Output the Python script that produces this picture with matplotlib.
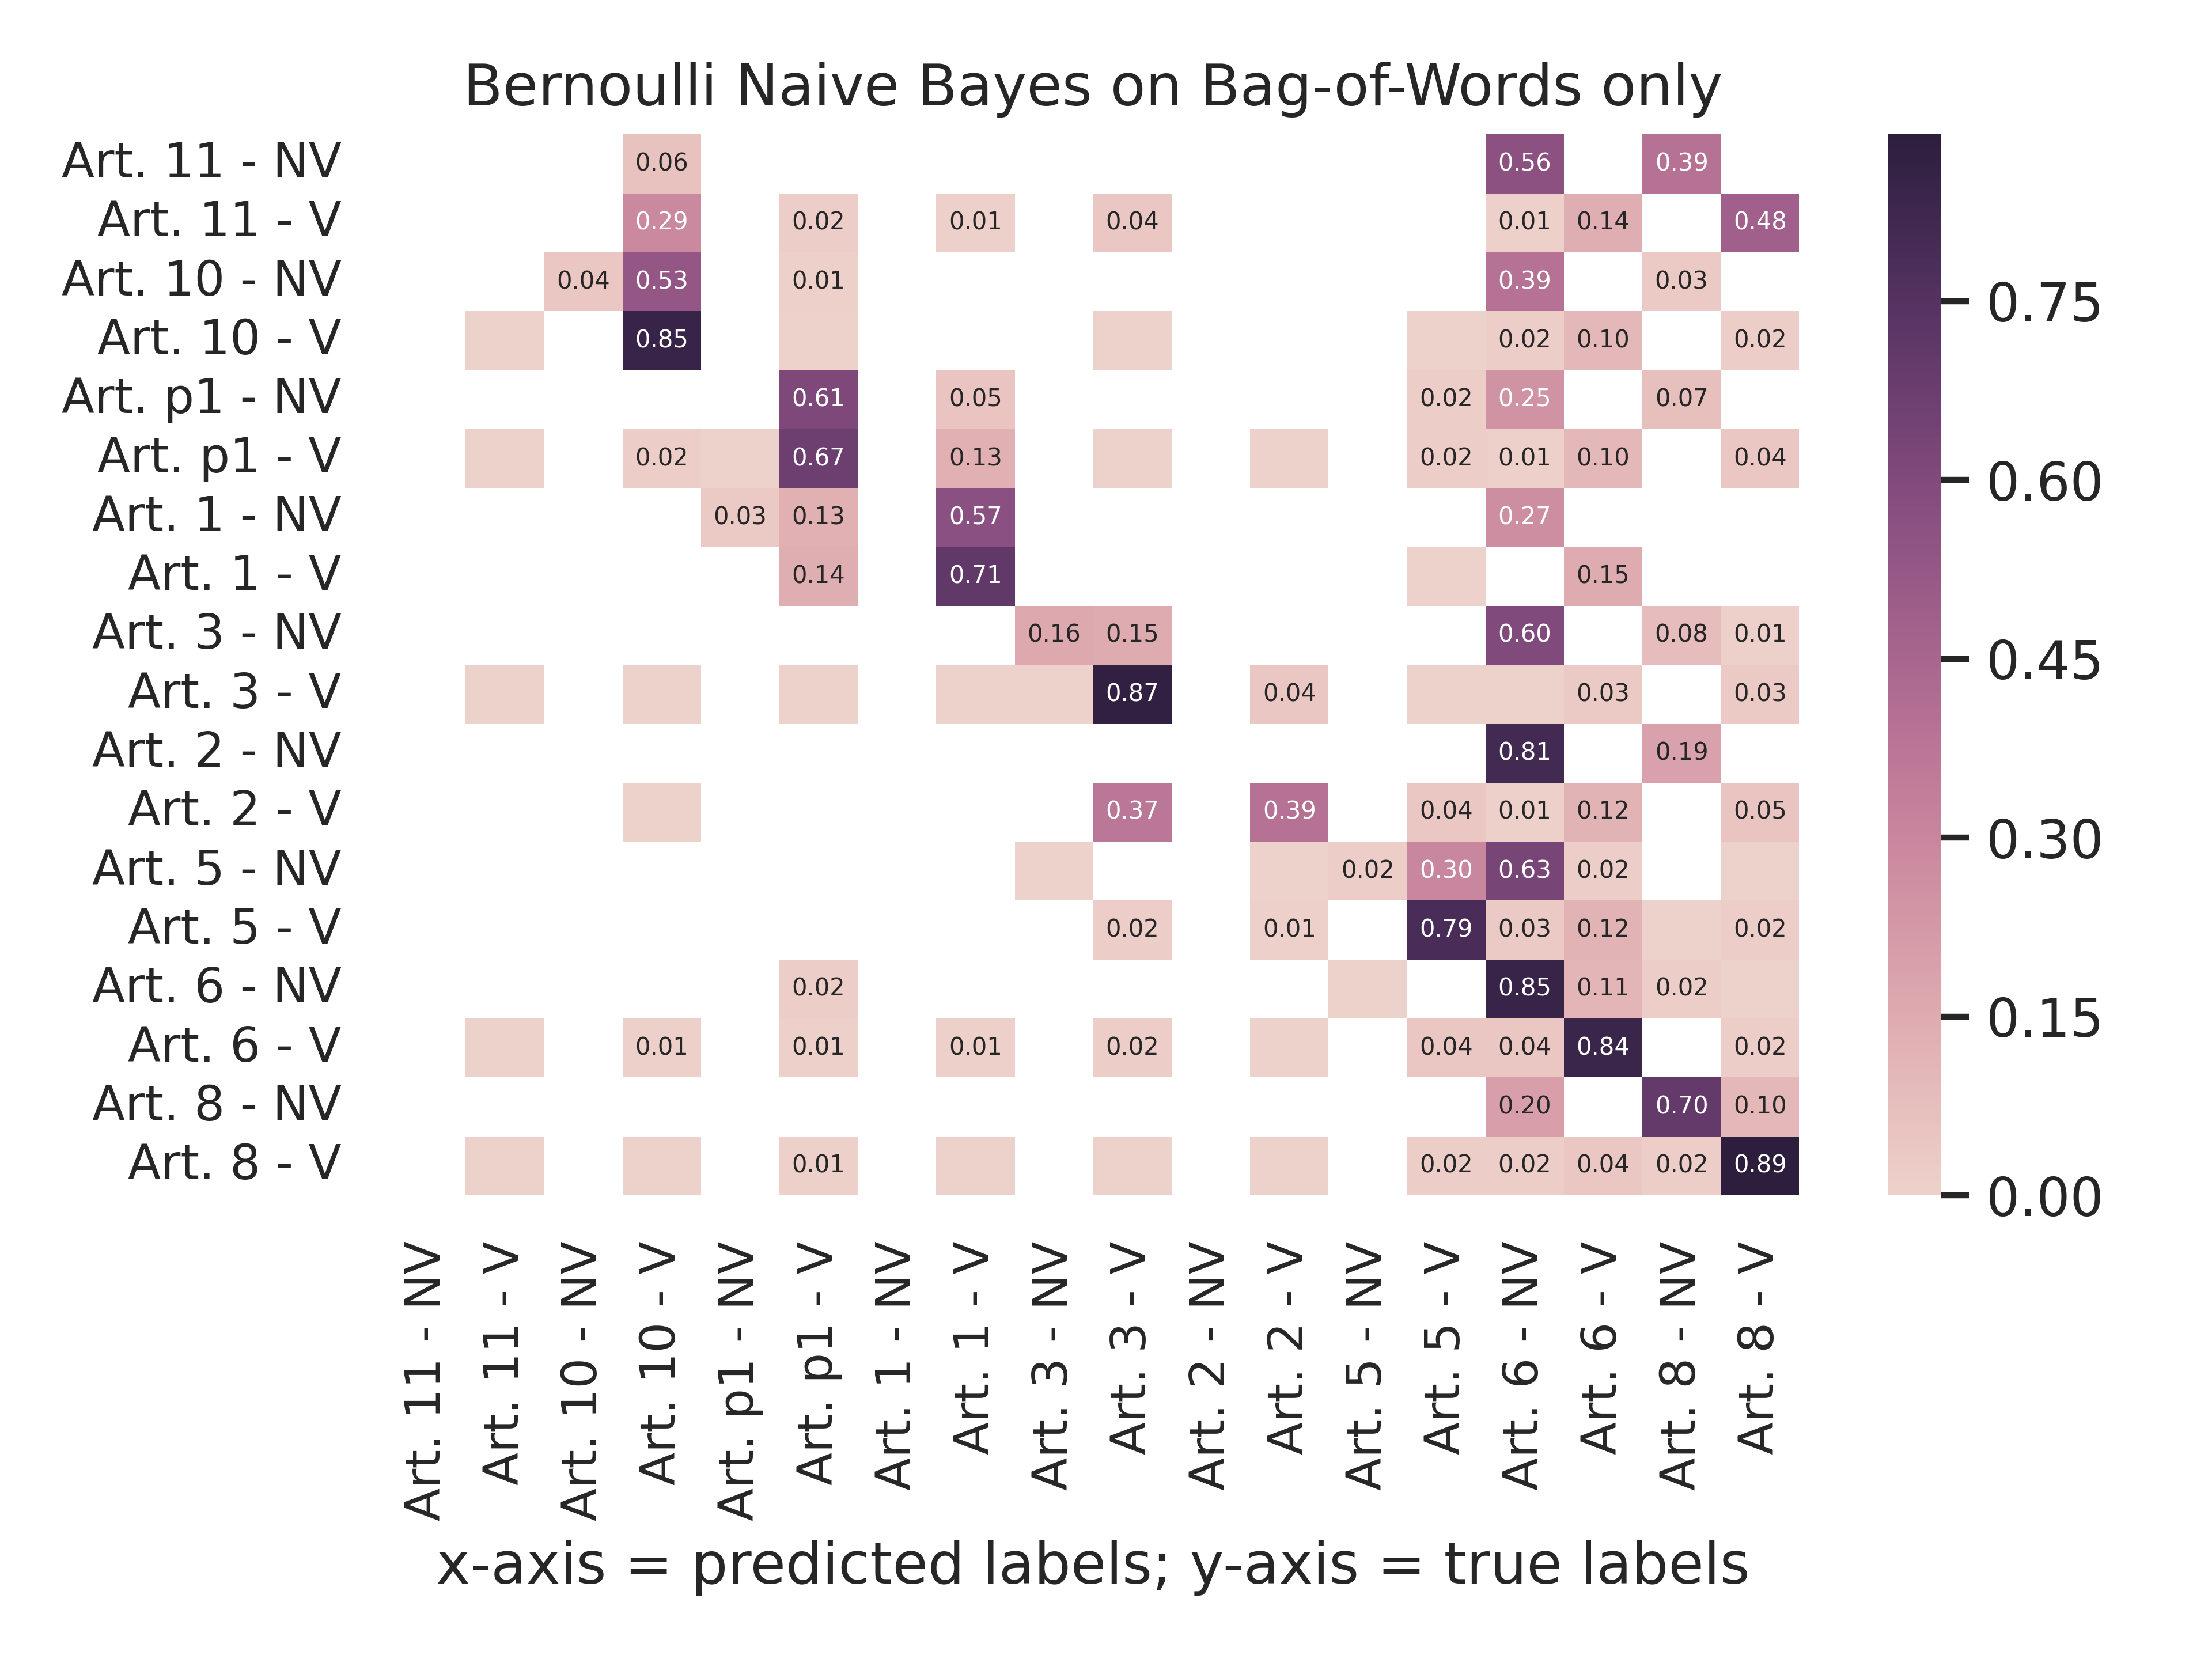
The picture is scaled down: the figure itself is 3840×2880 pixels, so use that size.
import numpy as np
import matplotlib
matplotlib.use("Agg")
import matplotlib.pyplot as plt
import seaborn as sns

labels = ["Art. 11 - NV", "Art. 11 - V", "Art. 10 - NV", "Art. 10 - V",
          "Art. p1 - NV", "Art. p1 - V", "Art. 1 - NV", "Art. 1 - V",
          "Art. 3 - NV", "Art. 3 - V", "Art. 2 - NV", "Art. 2 - V",
          "Art. 5 - NV", "Art. 5 - V", "Art. 6 - NV", "Art. 6 - V",
          "Art. 8 - NV", "Art. 8 - V"]

# tiny non-zero share (coloured cell, too small to print)
t = 0.003

# rows = true labels, columns = predicted labels
scores = [
    [0, 0, 0, .06, 0, 0, 0, 0, 0, 0, 0, 0, 0, 0, .56, 0, .39, 0],
    [0, 0, 0, .29, 0, .02, 0, .01, 0, .04, 0, 0, 0, 0, .01, .14, 0, .48],
    [0, 0, .04, .53, 0, .01, 0, 0, 0, 0, 0, 0, 0, 0, .39, 0, .03, 0],
    [0, t, 0, .85, 0, t, 0, 0, 0, t, 0, 0, 0, t, .02, .10, 0, .02],
    [0, 0, 0, 0, 0, .61, 0, .05, 0, 0, 0, 0, 0, .02, .25, 0, .07, 0],
    [0, t, 0, .02, t, .67, 0, .13, 0, t, 0, t, 0, .02, .01, .10, 0, .04],
    [0, 0, 0, 0, .03, .13, 0, .57, 0, 0, 0, 0, 0, 0, .27, 0, 0, 0],
    [0, 0, 0, 0, 0, .14, 0, .71, 0, 0, 0, 0, 0, t, 0, .15, 0, 0],
    [0, 0, 0, 0, 0, 0, 0, 0, .16, .15, 0, 0, 0, 0, .60, 0, .08, .01],
    [0, t, 0, t, 0, t, 0, t, t, .87, 0, .04, 0, t, t, .03, 0, .03],
    [0, 0, 0, 0, 0, 0, 0, 0, 0, 0, 0, 0, 0, 0, .81, 0, .19, 0],
    [0, 0, 0, t, 0, 0, 0, 0, 0, .37, 0, .39, 0, .04, .01, .12, 0, .05],
    [0, 0, 0, 0, 0, 0, 0, 0, t, 0, 0, t, .02, .30, .63, .02, 0, t],
    [0, 0, 0, 0, 0, 0, 0, 0, 0, .02, 0, .01, 0, .79, .03, .12, t, .02],
    [0, 0, 0, 0, 0, .02, 0, 0, 0, 0, 0, 0, t, 0, .85, .11, .02, t],
    [0, t, 0, .01, 0, .01, 0, .01, 0, .02, 0, t, 0, .04, .04, .84, 0, .02],
    [0, 0, 0, 0, 0, 0, 0, 0, 0, 0, 0, 0, 0, 0, .20, 0, .70, .10],
    [0, t, 0, t, 0, .01, 0, t, 0, t, 0, t, 0, .02, .02, .04, .02, .89],
]
cbar_ticks = [0.0, 0.15, 0.30, 0.45, 0.60, 0.75]

sns.set_theme(style="white")
plt.rcParams["font.family"] = ["DejaVu Sans"]

cm = np.array(scores)
annot = np.array([[f"{v:.2f}" if v >= 0.005 else "" for v in row] for row in cm])

fig, ax = plt.subplots(figsize=(6.4, 4.8))
fig.subplots_adjust(left=0.175, right=0.973, bottom=0.2795, top=0.919)
sns.heatmap(cm, mask=(cm == 0), annot=annot, fmt="", annot_kws={"size": 5},
            vmin=0, cmap=sns.cubehelix_palette(as_cmap=True),
            xticklabels=labels, yticklabels=labels,
            cbar_kws={"ticks": cbar_ticks, "format": "%.2f"}, ax=ax)
ax.set_xticklabels(labels, rotation=90, fontsize=10)
ax.set_yticklabels(labels, rotation=0, fontsize=10)
ax.set_title("Bernoulli Naive Bayes on Bag-of-Words only")
ax.set_xlabel("x-axis = predicted labels; y-axis = true labels")

fig.savefig("out.png", dpi=600)
